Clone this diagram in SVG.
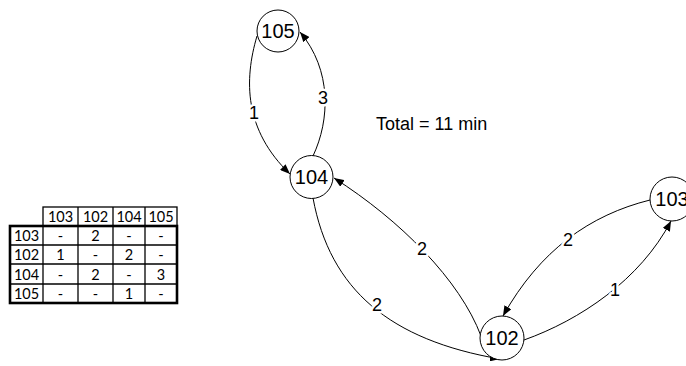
<svg xmlns="http://www.w3.org/2000/svg" width="686" height="366" viewBox="0 0 686 366">
<style>
.node circle{fill:#fff;stroke:#000;stroke-width:1}
.node text{font-family:"Liberation Sans",Arial,sans-serif;font-size:20px;fill:#000;text-anchor:middle}
.edge{fill:none;stroke:#000;stroke-width:1;marker-end:url(#arr)}
.lbl{font-family:"Liberation Sans",Arial,sans-serif;font-size:18px;fill:#000;text-anchor:middle;stroke:#fff;stroke-width:5px;paint-order:stroke;stroke-linejoin:round}
.title{font-family:"Liberation Sans",Arial,sans-serif;font-size:18px;fill:#000}
.tt{font-family:Lato,"Open Sans",sans-serif;font-size:14.5px;fill:#000;text-anchor:middle}
.thin{stroke:#000;stroke-width:1.3;fill:none}
.thick{stroke:#000;stroke-width:2.6;fill:none}
</style>
<defs>
<marker id="arr" viewBox="0 0 10 8" refX="10" refY="4" markerWidth="10" markerHeight="8" markerUnits="userSpaceOnUse" orient="auto">
<path d="M0,0 L10,4 L0,8 z" fill="#000"/>
</marker>
</defs>
<rect width="686" height="366" fill="#fff"/>

<g id="table">
<rect x="43" y="207" width="134" height="19" class="thin"/>
<line x1="78" y1="207" x2="78" y2="303" class="thin"/>
<line x1="113" y1="207" x2="113" y2="303" class="thin"/>
<line x1="145" y1="207" x2="145" y2="303" class="thin"/>
<line x1="43" y1="226" x2="43" y2="303" class="thin"/>
<line x1="10" y1="245" x2="177" y2="245" class="thin"/>
<line x1="10" y1="264" x2="177" y2="264" class="thin"/>
<line x1="10" y1="284" x2="177" y2="284" class="thin"/>
<rect x="10" y="226" width="167" height="77" class="thick"/>
<g class="tt">
<text x="60.5" y="222">103</text><text x="95.5" y="222">102</text><text x="129" y="222">104</text><text x="161" y="222">105</text>
<text x="26.5" y="241">103</text><text x="60.5" y="241">-</text><text x="95.5" y="241">2</text><text x="129" y="241">-</text><text x="161" y="241">-</text>
<text x="26.5" y="260">102</text><text x="60.5" y="260">1</text><text x="95.5" y="260">-</text><text x="129" y="260">2</text><text x="161" y="260">-</text>
<text x="26.5" y="279.5">104</text><text x="60.5" y="279.5">-</text><text x="95.5" y="279.5">2</text><text x="129" y="279.5">-</text><text x="161" y="279.5">3</text>
<text x="26.5" y="298.5">105</text><text x="60.5" y="298.5">-</text><text x="95.5" y="298.5">-</text><text x="129" y="298.5">1</text><text x="161" y="298.5">-</text>
</g>
</g>

<g id="connectors">
<path class="edge" d="M 257 36 C 244 80, 244 130, 290 174"/>
<path class="edge" d="M 313 156 C 330 120, 332 70, 300 32"/>
<path class="edge" d="M 481 336 C 460 280, 400 220, 334 178"/>
<path class="edge" d="M 313 198 C 330 290, 390 340, 500 359"/>
<path class="edge" d="M 650 200 C 590 215, 540 250, 503 316"/>
<path class="edge" d="M 524 340 C 580 320, 640 280, 671 221"/>
<text class="lbl" x="254" y="119">1</text>
<text class="lbl" x="323" y="104">3</text>
<text class="lbl" x="422" y="255">2</text>
<text class="lbl" x="377" y="311">2</text>
<text class="lbl" x="568" y="246">2</text>
<text class="lbl" x="615" y="296">1</text>
</g>

<g id="n105" class="node"><circle cx="278" cy="31" r="21"/><text x="278" y="38">105</text></g>
<g id="n104" class="node"><circle cx="311.5" cy="177" r="21.5"/><text x="311.5" y="184">104</text></g>
<g id="n102" class="node"><circle cx="502" cy="338" r="22"/><text x="502" y="345">102</text></g>
<g id="n103" class="node"><circle cx="672" cy="199" r="22"/><text x="672" y="206">103</text></g>

<text id="total" class="title" x="376" y="130">Total = 11 min</text>
</svg>
